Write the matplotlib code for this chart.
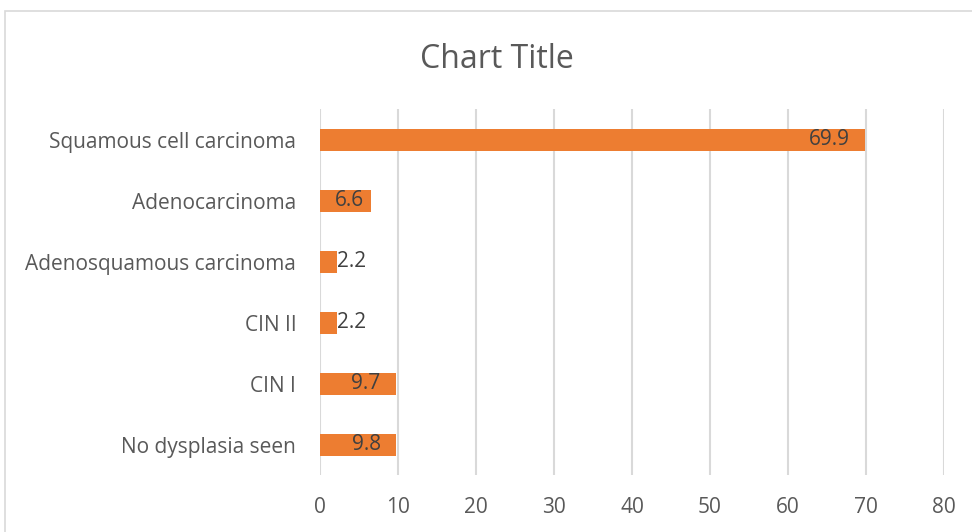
import matplotlib.pyplot as plt
from matplotlib.patches import Rectangle

categories = ["No dysplasia seen", "CIN I", "CIN II",
              "Adenosquamous carcinoma", "Adenocarcinoma", "Squamous cell carcinoma"]
values = [9.8, 9.7, 2.2, 2.2, 6.6, 69.9]
xticks = [0, 10, 20, 30, 40, 50, 60, 70, 80]

plt.rcParams['font.family'] = ['Open Sans', 'DejaVu Sans']

fig = plt.figure(figsize=(9.72, 5.32), dpi=100)
ax = fig.add_axes([0.3292, 0.107, 0.642, 0.688])

# chart border (Excel-style frame)
fig.patches.append(Rectangle((5 / 972, -0.1), 1.2, 1 - 11 / 532 + 0.1,
                             transform=fig.transFigure, fill=False,
                             edgecolor='#D9D9D9', linewidth=1.2))

ypos = range(len(categories))
ax.barh(ypos, values, height=0.36, color='#ED7D31', zorder=3)

# value labels: inside end, spilling past the bar when it is too short
for y, v in zip(ypos, values):
    if v < 5:
        ax.text(v, y, f"{v}", ha='left', va='center',
                fontsize=15, color='#404040', zorder=4)
    else:
        pad = 2.0 if v > 8 else 0.9
        ax.text(v - pad, y, f"{v}", ha='right', va='center',
                fontsize=15, color='#404040', zorder=4)

ax.set_xlim(0, 80)
ax.set_ylim(-0.5, len(categories) - 0.5)
ax.set_xticks(xticks)
ax.set_yticks(list(ypos))
ax.set_yticklabels(categories)
ax.xaxis.grid(True, color='#D9D9D9', linewidth=1.5, zorder=0)
ax.tick_params(axis='both', length=0, labelsize=15, colors='#595959')
ax.tick_params(axis='x', pad=16)
ax.tick_params(axis='y', pad=17)
for s in ax.spines.values():
    s.set_visible(False)

fig.text(0.511, 0.889, "Chart Title", ha='center', va='center',
         fontsize=23, color='#595959')

fig.savefig("out.png", dpi=100)
